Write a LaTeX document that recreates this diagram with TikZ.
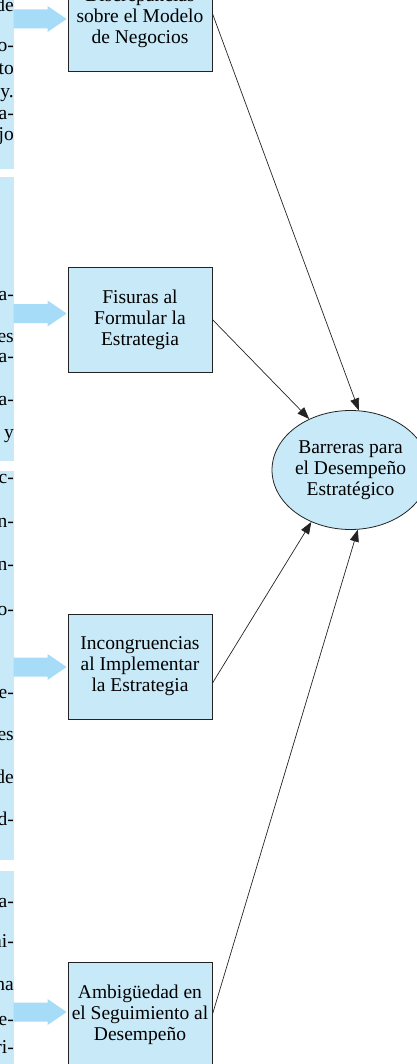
\documentclass[tikz,border=0pt]{standalone}
\usepackage{fontspec}
\setmainfont{Liberation Serif}
\usetikzlibrary{arrows.meta,calc,shapes.geometric}

\definecolor{boxblue}{RGB}{199,233,248}
\definecolor{arrowblue}{RGB}{166,220,247}
\definecolor{linegray}{RGB}{35,35,35}

\newcommand{\boxfont}{\fontsize{19.5}{21}\selectfont}

\tikzset{
  barrier/.style={draw=linegray, line width=0.8pt, fill=boxblue,
    minimum width=144pt, minimum height=105pt, inner sep=0pt,
    align=center, font=\boxfont},
  target/.style={ellipse, draw=linegray, line width=0.8pt, fill=boxblue,
    minimum width=129pt, minimum height=119pt, inner sep=0pt,
    align=center, font=\boxfont},
  link/.style={-{Triangle[length=12pt,width=9pt]}, line width=0.7pt, draw=linegray},
  frag/.style={anchor=base east, inner sep=0pt, font=\boxfont},
}

% wide arrow from the left column into a box
\newcommand{\blockarrow}[2]{%
  \fill[arrowblue] ($(#1.west)+(-54,#2-9.5)$) -- ($(#1.west)+(-20,#2-9.5)$)
    -- ($(#1.west)+(-20,#2-13)$) -- ($(#1.west)+(-1,#2)$)
    -- ($(#1.west)+(-20,#2+13)$) -- ($(#1.west)+(-20,#2+9.5)$)
    -- ($(#1.west)+(-54,#2+9.5)$) -- cycle;}

\begin{document}
\begin{tikzpicture}[x=1pt, y=-1pt]
  \useasboundingbox (0,0) rectangle (417,1064);
  \clip (0,0) rectangle (417,1064);

  % left column (cut off)
  \fill[boxblue] (-40,-40) rectangle (14,169);
  \fill[boxblue] (-40,177) rectangle (14,461);
  \fill[boxblue] (-40,471) rectangle (14,860);
  \fill[boxblue] (-40,871) rectangle (14,1100);
  \foreach \y/\t [count=\i] in {12/de, 52/o-, 75/to, 98/y., 120/a-, 141/jo,
      300/a-, 342/es, 362/a-, 405/a-, 438/y,
      483/c-, 527/n-, 570/n-, 615/o-, 698/e-, 740/es, 783/de, 825/d-,
      907/a-, 947/ni-, 990/na, 1025/e-, 1053/ri-}
    \node[frag] (frag-\i) at (14,\y) {\t};

  % boxes
  \node[barrier] (discrepancias) at (140,18.5) {Discrepancias\\sobre el Modelo\\de Negocios};
  \node[barrier] (fisuras) at (140,319.5) {Fisuras al\\Formular la\\Estrategia};
  \node[barrier] (incongruencias) at (140,666.5) {Incongruencias\\al Implementar\\la Estrategia};
  \node[barrier] (ambiguedad) at (140,1014.5) {Ambigüedad en\\el Seguimiento al\\Desempeño};

  \node[target] (barreras) at (350.5,470) {Barreras para\\el Desempeño\\Estratégico};

  % wide arrows
  \blockarrow{discrepancias}{0.5}
  \blockarrow{fisuras}{-6}
  \blockarrow{incongruencias}{0.5}
  \blockarrow{ambiguedad}{-2.5}

  % links to the circle
  \draw[link] (discrepancias.4) -- (barreras.82);
  \draw[link] (fisuras.east) -- (barreras.129);
  \draw[link] (incongruencias.-13) -- (barreras.233);
  \draw[link] (ambiguedad.east) -- (barreras.277);
\end{tikzpicture}
\end{document}
